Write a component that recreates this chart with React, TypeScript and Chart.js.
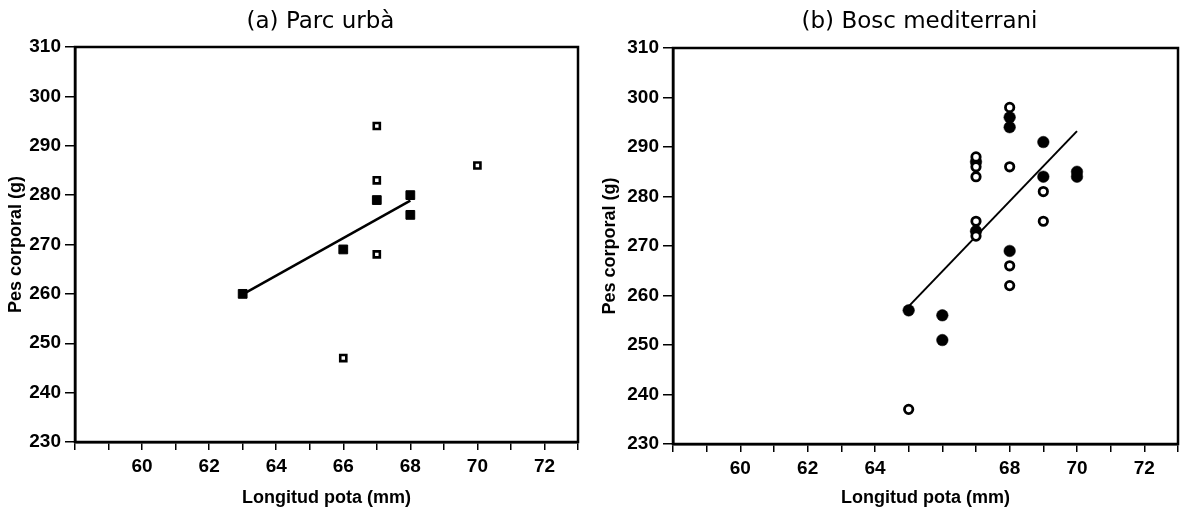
import React, { useEffect, useRef } from 'react';
import { Chart, registerables } from 'chart.js';

Chart.register(...registerables);

// ---- Data ----
const xTickValues = [58, 59, 60, 61, 62, 63, 64, 65, 66, 67, 68, 69, 70, 71, 72, 73];
const xLabelsA = [60, 62, 64, 66, 68, 70, 72];
const xLabelsB = [60, 62, 64, 68, 70, 72];
const yTickValues = [230, 240, 250, 260, 270, 280, 290, 300, 310];

// (a) Parc urbà — squares
const parcOpenX = [67, 70, 67, 67, 66];
const parcOpenY = [294, 286, 283, 268, 247];
const parcFilledX = [67, 68, 68, 66, 63];
const parcFilledY = [279, 280, 276, 269, 260];
const parcFitX = [63, 68];
const parcFitY = [259.9, 278.9];

// (b) Bosc mediterrani — circles
const boscOpenX = [65, 67, 67, 67, 67, 67, 68, 68, 68, 68, 69, 69];
const boscOpenY = [237, 288, 286, 284, 275, 272, 298, 286, 266, 262, 281, 275];
const boscFilledX = [65, 66, 66, 67, 67, 68, 68, 68, 69, 69, 70, 70];
const boscFilledY = [257, 256, 251, 287, 273, 296, 294, 269, 291, 284, 285, 284];
const boscFitX = [65, 70];
const boscFitY = [257.8, 293.2];

const zip = (xs: number[], ys: number[]) => xs.map((x, i) => ({ x, y: ys[i] }));

const FONT = '"Liberation Sans", Arial, sans-serif';
const W = 594;
const H = 513;

const framePlugin = {
  id: 'frame',
  afterDraw(chart: any, _args: any, opts: any) {
    const { ctx, chartArea: a } = chart;
    ctx.save();
    ctx.strokeStyle = '#000';
    ctx.lineWidth = 2.5;
    ctx.strokeRect(a.left, a.top, a.right - a.left, a.bottom - a.top);
    ctx.fillStyle = '#000';
    ctx.font = '23px "DejaVu Sans", sans-serif';
    ctx.textAlign = 'center';
    ctx.textBaseline = 'middle';
    ctx.fillText(opts.text, (a.left + a.right) / 2 + opts.dx, opts.y);
    ctx.restore();
  },
};

type Area = { left: number; right: number; top: number; bottom: number };

function Panel(props: {
  title: string;
  offsetX: number;
  area: Area;
  labels: number[];
  datasets: any[];
}) {
  const ref = useRef<HTMLCanvasElement | null>(null);
  useEffect(() => {
    if (!ref.current) return;
    const { area, labels } = props;
    const tickFont = { family: FONT, size: 19, weight: 'bold' as const };
    const chart = new Chart(ref.current, {
      type: 'scatter',
      data: { datasets: props.datasets },
      plugins: [framePlugin],
      options: {
        animation: false,
        responsive: true,
        maintainAspectRatio: false,
        layout: { padding: { left: 0, right: W - area.right, top: area.top, bottom: 0 } },
        plugins: {
          legend: { display: false },
          tooltip: { enabled: false },
          frame: { text: props.title, dx: -6, y: 22 },
        } as any,
        scales: {
          x: {
            type: 'linear',
            min: 58,
            max: 73,
            afterBuildTicks: (s: any) => {
              s.ticks = xTickValues.map((v) => ({ value: v }));
            },
            afterFit: (s: any) => {
              s.height = H - area.bottom;
            },
            ticks: {
              autoSkip: false,
              maxRotation: 0,
              color: '#000',
              font: tickFont,
              padding: 5,
              callback: (v: any) => (labels.includes(Number(v)) ? String(v) : ''),
            },
            grid: {
              drawOnChartArea: false,
              drawTicks: true,
              tickLength: 8,
              color: '#000',
              lineWidth: 1.5,
            },
            border: { display: true, color: '#000', width: 2.5 },
            title: {
              display: true,
              text: 'Longitud pota (mm)',
              color: '#000',
              font: { family: FONT, size: 18, weight: 'bold' },
              padding: { top: 0, bottom: 4 },
            },
          },
          y: {
            type: 'linear',
            min: 230,
            max: 310,
            afterBuildTicks: (s: any) => {
              s.ticks = yTickValues.map((v) => ({ value: v }));
            },
            afterFit: (s: any) => {
              s.width = area.left;
            },
            ticks: {
              color: '#000',
              font: tickFont,
              padding: 4,
            },
            grid: {
              drawOnChartArea: false,
              drawTicks: true,
              tickLength: 10,
              color: '#000',
              lineWidth: 1.5,
            },
            border: { display: true, color: '#000', width: 2.5 },
            title: {
              display: true,
              text: 'Pes corporal (g)',
              color: '#000',
              font: { family: FONT, size: 18, weight: 'bold' },
              padding: { top: 5, bottom: 0 },
            },
          },
        },
      } as any,
    });
    return () => chart.destroy();
  }, []);
  return (
    <div style={{ position: 'absolute', left: props.offsetX, top: 0, width: W, height: H }}>
      <canvas ref={ref} />
    </div>
  );
}

export default function App() {
  const parcSets = [
    {
      data: zip(parcOpenX, parcOpenY),
      pointStyle: 'rect',
      pointRadius: 4.3,
      borderWidth: 2.6,
      backgroundColor: '#fff',
      borderColor: '#000',
    },
    {
      data: zip(parcFilledX, parcFilledY),
      pointStyle: 'rect',
      pointRadius: 6.2,
      borderWidth: 1,
      backgroundColor: '#000',
      borderColor: '#000',
    },
    {
      data: zip(parcFitX, parcFitY),
      showLine: true,
      pointRadius: 0,
      borderWidth: 2.5,
      borderColor: '#000',
      backgroundColor: '#000',
    },
  ];
  const boscSets = [
    {
      data: zip(boscOpenX, boscOpenY),
      pointStyle: 'circle',
      pointRadius: 4.2,
      borderWidth: 2.8,
      backgroundColor: '#fff',
      borderColor: '#000',
    },
    {
      data: zip(boscFilledX, boscFilledY),
      pointStyle: 'circle',
      pointRadius: 5.8,
      borderWidth: 0.5,
      backgroundColor: '#000',
      borderColor: '#000',
    },
    {
      data: zip(boscFitX, boscFitY),
      showLine: true,
      pointRadius: 0,
      borderWidth: 2,
      borderColor: '#000',
      backgroundColor: '#000',
    },
  ];
  return (
    <div style={{ position: 'absolute', left: 0, top: 0, width: 1188, height: 513, background: '#fff' }}>
      <Panel
        title="(a) Parc urbà"
        offsetX={0}
        area={{ left: 75, right: 578, top: 47, bottom: 442 }}
        labels={xLabelsA}
        datasets={parcSets}
      />
      <Panel
        title="(b) Bosc mediterrani"
        offsetX={594}
        area={{ left: 79, right: 584, top: 48, bottom: 444 }}
        labels={xLabelsB}
        datasets={boscSets}
      />
    </div>
  );
}
